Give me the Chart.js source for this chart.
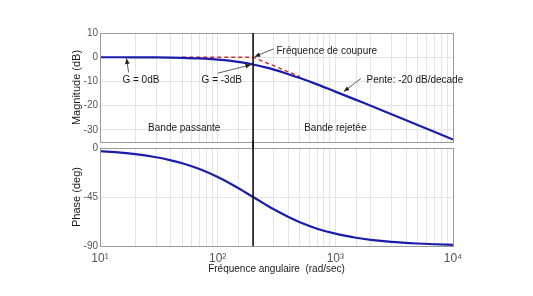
<!DOCTYPE html>
<html>
<head>
<meta charset="utf-8">
<script src="https://cdn.jsdelivr.net/npm/chart.js@4.4.1/dist/chart.umd.min.js"></script>
<style>
  html, body { margin: 0; padding: 0; background: #fff; }
  #wrap { position: relative; width: 533px; height: 296px; }
  canvas { position: absolute; left: 0; }
  #magChart { top: 0; }
  #phaseChart { top: 140px; }
</style>
</head>
<body>
<div id="wrap">
  <canvas id="magChart" width="533" height="150"></canvas>
  <canvas id="phaseChart" width="533" height="156"></canvas>
</div>
<script>
// Fréquences (rad/s)
const freqs = [10, 15, 20, 30, 40, 50, 70, 100, 130, 160, 200, 250, 300, 400, 500, 700, 1000, 1500, 2000, 3000, 5000, 7000, 10000];
// Gain (dB)
const magnitude = [-0.01, -0.02, -0.04, -0.1, -0.17, -0.26, -0.5, -0.97, -1.53, -2.15, -3.0, -4.1, -5.1, -7.0, -8.6, -11.2, -14.2, -17.6, -20.0, -23.5, -28.0, -30.9, -34.0];
// Phase (deg)
const phase = [-2.9, -4.3, -5.7, -8.5, -11.3, -14.0, -19.3, -26.6, -33.0, -38.7, -45, -51.3, -56.3, -63.4, -68.2, -74.1, -78.7, -82.4, -84.3, -86.2, -87.7, -88.4, -88.9];
// Asymptote (pointillés rouges)
const asymFreqs = [50, 200, 500];
const asymMag = [0, 0, -8];
// Fréquence de coupure
const cutoff = 200;
// Graduations
const magTicks = [-30, -20, -10, 0, 10];
const phaseTicks = [-90, -45, 0];
const decadeLabels = { 10: '10¹', 100: '10²', 1000: '10³', 10000: '10⁴' };

// Annotations (position en coordonnées du graphe)
const notes = [
  { text: 'Fréquence de coupure', x: 316, y: 2.3, align: 'left' },
  { text: 'G = 0dB', x: 15.5, y: -9.6, align: 'left' },
  { text: 'G = -3dB', x: 73, y: -9.6, align: 'left' },
  { text: 'Pente: -20 dB/decade', x: 1840, y: -9.6, align: 'left' },
  { text: 'Bande passante', x: 52, y: -29.4, align: 'center' },
  { text: 'Bande rejetée', x: 1000, y: -29.4, align: 'center' }
];
const arrows = [
  { x1: 300, y1: 3.5, x2: 206, y2: 0.2 },
  { x1: 17.5, y1: -6.3, x2: 16.8, y2: -0.5 },
  { x1: 100, y1: -6.6, x2: 192, y2: -3.1 },
  { x1: 1650, y1: -8.8, x2: 1180, y2: -14.2 }
];

Chart.defaults.font.family = "'Liberation Sans', Arial, sans-serif";
Chart.defaults.font.size = 11;
Chart.defaults.color = '#555';

const blue = '#1c1caa';
const gridColor = '#e4e4e4';
const boxColor = '#9a9a9a';

function toPoints(xs, ys) {
    return xs.map((x, i) => ({ x: x, y: ys[i] }));
}

function drawArrow(ctx, x1, y1, x2, y2) {
    const ang = Math.atan2(y2 - y1, x2 - x1);
    const len = 6;
    ctx.beginPath();
    ctx.moveTo(x1, y1);
    ctx.lineTo(x2, y2);
    ctx.stroke();
    ctx.beginPath();
    ctx.moveTo(x2, y2);
    ctx.lineTo(x2 - len * Math.cos(ang - 0.4), y2 - len * Math.sin(ang - 0.4));
    ctx.lineTo(x2 - len * Math.cos(ang + 0.4), y2 - len * Math.sin(ang + 0.4));
    ctx.closePath();
    ctx.fill();
}

// Cadre gris + ligne verticale de coupure
function framePlugin(lineTop, lineBottom) {
    return {
        id: 'frame',
        afterDraw(chart) {
            const { ctx, chartArea: a } = chart;
            const x = chart.scales.x.getPixelForValue(cutoff);
            ctx.save();
            ctx.strokeStyle = boxColor;
            ctx.lineWidth = 1;
            ctx.strokeRect(a.left + 0.5, a.top + 0.5, a.right - a.left, a.bottom - a.top);
            ctx.strokeStyle = '#111';
            ctx.lineWidth = 1.6;
            ctx.beginPath();
            ctx.moveTo(x, lineTop(a));
            ctx.lineTo(x, lineBottom(a));
            ctx.stroke();
            ctx.restore();
        }
    };
}

const notesPlugin = {
    id: 'notes',
    afterDraw(chart) {
        const { ctx, scales } = chart;
        ctx.save();
        ctx.fillStyle = '#1a1a1a';
        ctx.strokeStyle = '#333';
        ctx.lineWidth = 0.8;
        ctx.font = "10px 'Liberation Sans', Arial, sans-serif";
        ctx.textBaseline = 'middle';
        notes.forEach(n => {
            ctx.textAlign = n.align;
            ctx.fillText(n.text, scales.x.getPixelForValue(n.x), scales.y.getPixelForValue(n.y));
        });
        ctx.fillStyle = '#222';
        arrows.forEach(a => {
            drawArrow(ctx,
                scales.x.getPixelForValue(a.x1), scales.y.getPixelForValue(a.y1),
                scales.x.getPixelForValue(a.x2), scales.y.getPixelForValue(a.y2));
        });
        ctx.restore();
    }
};

function xAxis(showLabels, height) {
    return {
        type: 'logarithmic',
        min: 10,
        max: 10000,
        border: { display: false },
        grid: { color: gridColor, drawTicks: false },
        ticks: {
            display: showLabels,
            autoSkip: false,
            maxRotation: 0,
            padding: 5,
            color: '#555',
            font: { size: 12 },
            callback: function(value) {
                return decadeLabels[value] || '';
            }
        },
        title: {
            display: showLabels,
            text: 'Fréquence angulaire  (rad/sec)',
            color: '#1a1a1a',
            font: { size: 10 },
            padding: { top: 0, bottom: 21 }
        },
        afterFit: function(scale) { scale.height = height; }
    };
}

function yAxis(min, max, tickList, label) {
    return {
        min: min,
        max: max,
        border: { display: false },
        grid: { color: gridColor, drawTicks: false },
        ticks: { padding: 2, color: '#555', font: { size: 10 } },
        afterBuildTicks: function(scale) {
            scale.ticks = tickList.map(v => ({ value: v }));
        },
        title: {
            display: true,
            text: label,
            color: '#1a1a1a',
            font: { size: 11 },
            padding: { top: 70, bottom: 0 }
        },
        afterFit: function(scale) { scale.width = 100; }
    };
}

new Chart(document.getElementById('magChart'), {
    type: 'line',
    data: {
        datasets: [
            {
                data: toPoints(freqs, magnitude),
                borderColor: blue,
                borderWidth: 2.2,
                pointRadius: 0,
                cubicInterpolationMode: 'monotone',
                order: 1
            },
            {
                data: toPoints(asymFreqs, asymMag),
                borderColor: '#d42a2a',
                borderWidth: 1.4,
                borderDash: [4, 3],
                pointRadius: 0,
                order: 2
            }
        ]
    },
    options: {
        responsive: false,
        animation: false,
        layout: { padding: { left: 0, right: 80, top: 33, bottom: 6 } },
        plugins: { legend: { display: false }, tooltip: { enabled: false } },
        scales: {
            x: xAxis(false, 0),
            y: yAxis(-35, 10, magTicks, 'Magnitude (dB)')
        }
    },
    plugins: [framePlugin(a => a.top, a => 150), notesPlugin]
});

new Chart(document.getElementById('phaseChart'), {
    type: 'line',
    data: {
        datasets: [{
            data: toPoints(freqs, phase),
            borderColor: blue,
            borderWidth: 2.2,
            pointRadius: 0,
            cubicInterpolationMode: 'monotone'
        }]
    },
    options: {
        responsive: false,
        animation: false,
        layout: { padding: { left: 0, right: 80, top: 8, bottom: 0 } },
        plugins: { legend: { display: false }, tooltip: { enabled: false } },
        scales: {
            x: xAxis(true, 50),
            y: yAxis(-90, 0, phaseTicks, 'Phase (deg)')
        }
    },
    plugins: [framePlugin(a => 0, a => a.bottom)]
});
</script>
</body>
</html>
